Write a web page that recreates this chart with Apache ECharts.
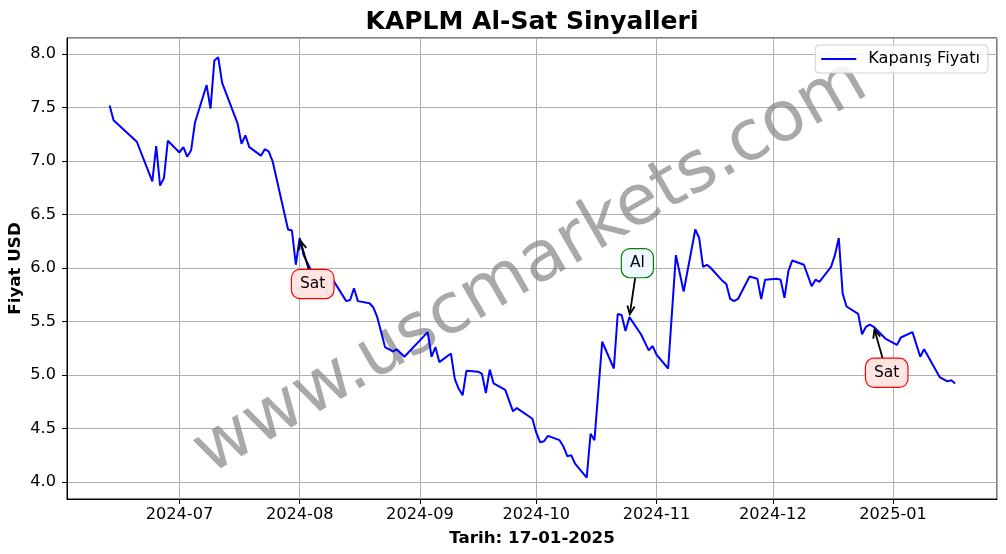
<!DOCTYPE html>
<html><head><meta charset="utf-8">
<script src="https://cdn.jsdelivr.net/npm/echarts@6/dist/echarts.min.js"></script>
<style>html,body{margin:0;padding:0;background:#fff}#c{width:1006px;height:554px}</style>
</head><body><div id="c"></div>
<script>
const dates = ['2024-06-13','2024-06-14','2024-06-20','2024-06-24','2024-06-25','2024-06-26','2024-06-27','2024-06-28',
'2024-07-01','2024-07-02','2024-07-03','2024-07-04','2024-07-05','2024-07-08','2024-07-09','2024-07-10','2024-07-11','2024-07-12',
'2024-07-16','2024-07-17','2024-07-18','2024-07-19','2024-07-22','2024-07-23','2024-07-24','2024-07-25','2024-07-29','2024-07-30','2024-07-31',
'2024-08-01','2024-08-02','2024-08-05','2024-08-06','2024-08-08','2024-08-13','2024-08-14','2024-08-15','2024-08-16','2024-08-19','2024-08-20',
'2024-08-21','2024-08-23','2024-08-25','2024-08-26','2024-08-28',
'2024-09-03','2024-09-04','2024-09-05','2024-09-06','2024-09-09','2024-09-10','2024-09-11','2024-09-12','2024-09-13','2024-09-16','2024-09-17',
'2024-09-18','2024-09-19','2024-09-20','2024-09-23','2024-09-24','2024-09-25','2024-09-26','2024-09-30',
'2024-10-01','2024-10-02','2024-10-03','2024-10-04','2024-10-07','2024-10-08','2024-10-09','2024-10-10','2024-10-11','2024-10-14','2024-10-15',
'2024-10-16','2024-10-18','2024-10-21','2024-10-22','2024-10-23','2024-10-24','2024-10-25','2024-10-28','2024-10-30','2024-10-31',
'2024-11-01','2024-11-04','2024-11-06','2024-11-08','2024-11-11','2024-11-12','2024-11-13','2024-11-14','2024-11-15','2024-11-18','2024-11-19',
'2024-11-20','2024-11-21','2024-11-22','2024-11-25','2024-11-27','2024-11-28','2024-11-29',
'2024-12-02','2024-12-03','2024-12-04','2024-12-05','2024-12-06','2024-12-09','2024-12-11','2024-12-12','2024-12-13','2024-12-16','2024-12-17',
'2024-12-18','2024-12-19','2024-12-20','2024-12-23','2024-12-24','2024-12-25','2024-12-26','2024-12-27','2024-12-30',
'2025-01-02','2025-01-03','2025-01-06','2025-01-08','2025-01-09','2025-01-13','2025-01-15','2025-01-16','2025-01-17'];
const closes = [7.52,7.38,7.18,6.81,7.14,6.77,6.84,7.19,
7.08,7.13,7.04,7.10,7.36,7.71,7.49,7.94,7.97,7.73,
7.35,7.16,7.24,7.13,7.05,7.11,7.09,7.00,6.36,6.35,6.03,
6.28,6.12,5.90,5.93,5.98,5.69,5.70,5.81,5.69,5.67,5.63,
5.54,5.26,5.22,5.24,5.17,
5.40,5.17,5.26,5.12,5.20,4.96,4.87,4.81,5.04,5.03,5.01,
4.83,5.05,4.92,4.86,4.76,4.66,4.69,4.59,
4.46,4.37,4.38,4.43,4.39,4.33,4.24,4.25,4.17,4.04,4.45,
4.39,5.31,5.06,5.57,5.56,5.41,5.54,5.38,5.23,5.27,
5.19,5.06,6.12,5.78,6.36,6.28,6.01,6.03,6.00,5.88,5.85,
5.71,5.69,5.71,5.92,5.90,5.71,5.89,
5.90,5.89,5.72,5.97,6.07,6.03,5.83,5.89,5.87,6.01,6.12,
6.28,5.76,5.64,5.57,5.38,5.45,5.47,5.45,5.34,
5.28,5.35,5.40,5.17,5.24,4.98,4.94,4.95,4.92];
const signalDates = ['2024-08-01','2024-10-25','2024-12-27'];
const signalTypes = ['Sat','Al','Sat'];
const yTickLabels = ['4.0','4.5','5.0','5.5','6.0','6.5','7.0','7.5','8.0'];

const F = 'DejaVu Sans';
const toTs = s => { const [y,m,d] = s.split('-').map(Number); return new Date(y, m-1, d).getTime(); };
const seriesData = dates.map((d,i)=>[toTs(d), closes[i]]);
const pad2 = n => String(n).padStart(2,'0');

const chart = echarts.init(document.getElementById('c'), null, {renderer:'canvas'});
chart.setOption({
  animation:false,
  backgroundColor:'#fff',
  title:{text:'KAPLM Al-Sat Sinyalleri', left:527, top:5, textAlign:'center',
    textStyle:{fontFamily:F, fontSize:25, fontWeight:'bold', color:'#000'}},
  legend:{right:18, top:45, orient:'vertical', padding:[6,8,6,6], itemWidth:35, itemHeight:2, icon:'rect',
    borderColor:'#d0d0d0', borderWidth:1, borderRadius:4, backgroundColor:'rgba(255,255,255,0.85)',
    textStyle:{fontFamily:F, fontSize:16.2, color:'#000', padding:[0,0,0,7], lineHeight:16},
    data:['Kapanış Fiyatı']},
  grid:{left:67, right:9, top:38, bottom:55, show:true, borderColor:'#000', borderWidth:1,
    backgroundColor:'transparent', containLabel:false, outerBoundsMode:'none'},
  xAxis:{type:'time', min:toTs('2024-06-02'), max:toTs('2025-01-27')+19*3600000,
    splitNumber:8, minInterval:28*86400000, maxInterval:31*86400000,
    name:'Tarih: 17-01-2025', nameLocation:'middle', nameGap:31, nameMoveOverlap:false,
    nameTextStyle:{fontFamily:F, fontSize:16.7, fontWeight:'bold', color:'#000'},
    axisLine:{lineStyle:{color:'#000', width:1}},
    axisTick:{show:true, length:5, lineStyle:{color:'#000'}},
    axisLabel:{fontFamily:F, fontSize:16.2, color:'#000', margin:8, showMinLabel:false, showMaxLabel:false,
      formatter:v=>{const d=new Date(v); return d.getFullYear()+'-'+pad2(d.getMonth()+1);}},
    splitLine:{show:true, lineStyle:{color:'#b0b0b0', width:1}}},
  yAxis:{type:'value', min:3.84, max:8.15, splitNumber:9,
    name:'Fiyat USD', nameLocation:'middle', nameGap:43, nameMoveOverlap:false,
    nameTextStyle:{fontFamily:F, fontSize:16.7, fontWeight:'bold', color:'#000'},
    axisLine:{show:true, lineStyle:{color:'#000', width:1}},
    axisTick:{show:true, length:5, lineStyle:{color:'#000'}},
    axisLabel:{fontFamily:F, fontSize:16.2, color:'#000', margin:11, showMinLabel:false, showMaxLabel:false,
      formatter:v=>{const s=v.toFixed(1); return yTickLabels.includes(s)?s:'';}},
    splitLine:{show:true, lineStyle:{color:'#b0b0b0', width:1}}},
  series:[{name:'Kapanış Fiyatı', type:'line', data:seriesData, symbol:'none', showSymbol:false,
    lineStyle:{color:'#0000ff', width:2}, itemStyle:{color:'#0000ff'}, z:3}]
});

// annotations
const ctx = document.createElement('canvas').getContext('2d');
ctx.font = '15.5px "' + F + '"';
const boxStyle = {Sat:{fill:'#ffe4e1', stroke:'#ff0000', off:[13,46]}, Al:{fill:'#f0f8ff', stroke:'#008000', off:[8,-54]}};
const graphics = [];
graphics.push({type:'text', x:531, y:268, rotation:30*Math.PI/180, z:1, silent:true,
  style:{text:'www.uscmarkets.com', font:'70px "'+F+'"', fill:'rgba(128,128,128,0.68)', align:'center', verticalAlign:'middle'}});
signalDates.forEach((d,i)=>{
  const idx = dates.indexOf(d);
  const P = chart.convertToPixel({gridIndex:0}, [toTs(d), closes[idx]]);
  const st = boxStyle[signalTypes[i]];
  const C = [P[0]+st.off[0], P[1]+st.off[1]];
  const tw = ctx.measureText(signalTypes[i]).width;
  const hw = tw/2 + 8, hh = 14;
  const dx = P[0]-C[0], dy = P[1]-C[1];
  const t = Math.min(hw/Math.abs(dx||1e-9), hh/Math.abs(dy||1e-9));
  const len = Math.hypot(dx,dy), ux = dx/len, uy = dy/len;
  const S = [C[0]+dx*t, C[1]+dy*t];
  const T = [P[0]-ux*3, P[1]-uy*3];
  const hl = 9, ha = 0.42;
  const bx = -ux, by = -uy;
  const h1 = [T[0]+hl*(bx*Math.cos(ha)-by*Math.sin(ha)), T[1]+hl*(bx*Math.sin(ha)+by*Math.cos(ha))];
  const h2 = [T[0]+hl*(bx*Math.cos(-ha)-by*Math.sin(-ha)), T[1]+hl*(bx*Math.sin(-ha)+by*Math.cos(-ha))];
  graphics.push({type:'line', z:10, silent:true, shape:{x1:S[0],y1:S[1],x2:T[0],y2:T[1]}, style:{stroke:'#000', lineWidth:1.8}});
  graphics.push({type:'polyline', z:10, silent:true, shape:{points:[h1,T,h2]}, style:{stroke:'#000', lineWidth:1.8, fill:null}});
  graphics.push({type:'text', z:11, silent:true, x:C[0], y:C[1],
    style:{text:signalTypes[i], font:'15.5px "'+F+'"', fill:'#000', align:'center', verticalAlign:'middle',
      backgroundColor:st.fill, borderColor:st.stroke, borderWidth:1.2, borderRadius:8, padding:[6,8,6,8]}});
});
chart.setOption({graphic:graphics});
</script>
</body></html>
